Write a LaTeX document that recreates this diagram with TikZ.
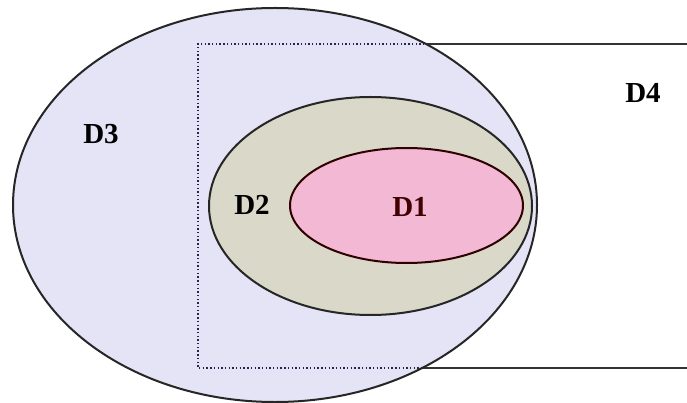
\documentclass[tikz,border=0pt]{standalone}
\usepackage{fontspec}
\setmainfont{Liberation Serif}
\definecolor{setthree}{HTML}{E4E4F6}
\definecolor{settwo}{HTML}{DAD8C8}
\definecolor{setone}{HTML}{F2B8D4}
\definecolor{rimdot}{HTML}{252550}
\tikzset{
  dset/.style={draw=black!85,line width=2pt},          % ellipse outline
  rimin/.style={rimdot,line width=1.8pt,dash pattern=on 1.4pt off 2.3pt},% D4 edge inside D3
  rimout/.style={black!80,line width=2.2pt},               % D4 edge outside D3
  lab/.style={font=\fontsize{29}{31}\selectfont\bfseries,inner sep=0pt},
}
\newcommand{\bigset}{(275,205) ellipse [x radius=262,y radius=197]}

\begin{document}
\begin{tikzpicture}[x=1pt,y=-1pt]
  \useasboundingbox[fill=white] (0,0) rectangle (687,403);
  \fill[setthree] \bigset;
  % D4: dotted part inside D3, solid part outside
  \begin{scope}
    \clip \bigset;
    \draw[rimin] (687,44) -| (198,368) -- (687,368);
  \end{scope}
  \coordinate (topcut) at (426,44);
  \coordinate (botcut) at (422,368);
  \draw[rimout] (topcut) -- (687,44) (botcut) -- (687,368);
  \draw[dset] \bigset;
  \draw[dset,fill=settwo] (370.5,206) ellipse [x radius=161.5,y radius=109];
  \draw[dset,draw=black!70!red!60!black,fill=setone] (406.5,205.5) ellipse [x radius=116.5,y radius=57.5];
  \node[lab] (d3) at (101,134) {D3};
  \node[lab] (d2) at (252,205) {D2};
  \node[lab,text=black!75!red] (d1) at (410,207) {D1};
  \node[lab] (d4) at (643,93) {D4};
\end{tikzpicture}
\end{document}
